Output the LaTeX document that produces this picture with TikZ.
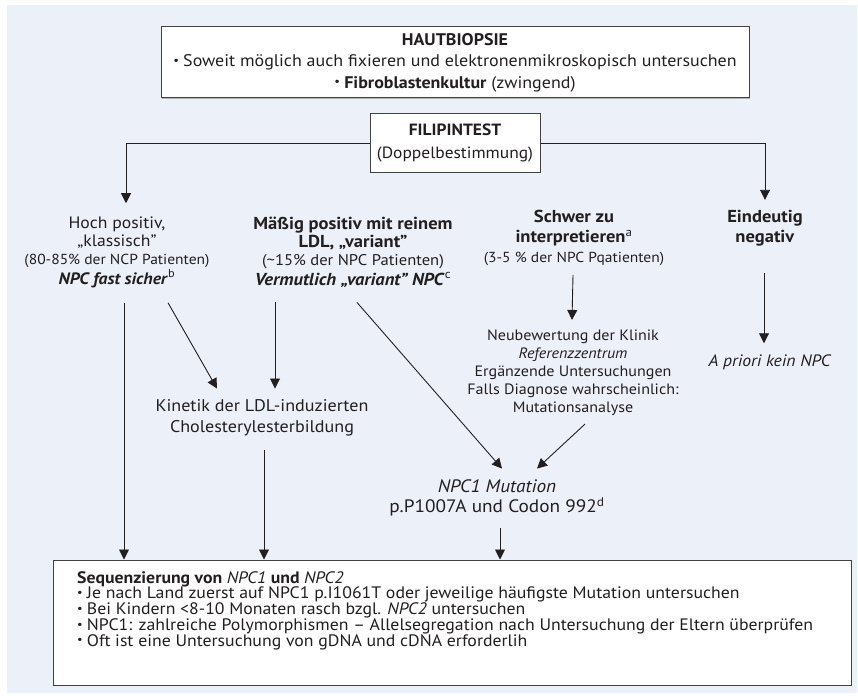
\documentclass[tikz,border=0pt]{standalone}
\usepackage{fontspec}
\setmainfont{PT Sans}[FakeStretch=1.07]
\usetikzlibrary{arrows.meta,shadows}
\definecolor{bgc}{RGB}{236,241,249}
\definecolor{ink}{RGB}{35,31,32}
\newcommand{\bu}{\raisebox{0.14em}{\scalebox{0.7}{•}}\hspace{0.25em}}
\begin{document}
\begin{tikzpicture}[x=1pt,y=-1pt,
  txt/.style={inner sep=0pt, align=center, text=ink},
  box/.style={draw=ink!85, line width=1pt, fill=white, align=center, text=ink, inner sep=0pt,
    drop shadow={shadow xshift=1.2pt, shadow yshift=-1.2pt, fill=black!45, opacity=0.6}},
  arr/.style={draw=ink, line width=0.9pt, -{Triangle[length=10pt,width=10pt]}}]
\useasboundingbox (0,0) rectangle (858,695);
\fill[bgc] (7,5) rectangle (857,693);

\node[box, minimum width=588pt, minimum height=71pt, font=\fontsize{16.8}{21.5}\selectfont] (haut) at (455,62.5)
  {\textbf{HAUTBIOPSIE}\\\bu Soweit möglich auch fixieren und elektronenmikroskopisch untersuchen\\\bu\textbf{Fibroblastenkultur} (zwingend)};

\node[box, minimum width=170pt, minimum height=58pt, font=\fontsize{16.3}{23}\selectfont] (fil) at (455,143)
  {\textbf{FILIPINTEST}\\(Doppelbestimmung)};

\node[txt, font=\fontsize{16.5}{18}\selectfont] (c1) at (117,252)
  {Hoch positiv,\\„klassisch”\\{\fontsize{14.5}{18}\selectfont (80-85\% der NCP Patienten)}\\[2pt]\textbf{\textit{NPC fast sicher}}\textsuperscript{b}};

\node[txt, font=\fontsize{17.3}{18}\selectfont] (c2) at (353,252)
  {\textbf{Mäßig positiv mit reinem}\\\textbf{LDL, „variant”}\\{\fontsize{15.5}{18}\selectfont (\textasciitilde15\% der NPC Patienten)}\\[2pt]\textbf{\textit{Vermutlich „variant” NPC}}\textsuperscript{c}};

\node[txt, font=\fontsize{17.3}{20}\selectfont] (c3) at (574,238)
  {\textbf{Schwer zu}\\\textbf{interpretieren}\textsuperscript{a}\\{\fontsize{14.5}{20}\selectfont (3-5 \% der NPC Pqatienten)}};

\node[txt, font=\fontsize{17.3}{20}\selectfont] (c4) at (765,228)
  {\textbf{Eindeutig}\\\textbf{negativ}};

\node[txt, font=\fontsize{15}{18}\selectfont] (c3b) at (573,373)
  {Neubewertung der Klinik\\\textit{Referenzzentrum}\\Ergänzende Untersuchungen\\Falls Diagnose wahrscheinlich:\\Mutationsanalyse};

\node[txt, font=\fontsize{16.5}{20}\selectfont] (c4b) at (770,362) {\textit{A priori kein NPC}};

\node[txt, font=\fontsize{16.9}{21}\selectfont] (kin) at (262,418)
  {Kinetik der LDL-induzierten\\Cholesterylesterbildung};

\node[txt, font=\fontsize{18}{20}\selectfont] (mut) at (497,498)
  {\textit{NPC1 Mutation}\\p.P1007A und Codon 992\textsuperscript{d}};

\node[box, minimum width=798pt, minimum height=125pt] (seq) at (452,622.5) {};
\node[txt, align=left, anchor=west, font=\fontsize{16.6}{15.8}\selectfont] (seqtxt) at (77,610.5)
  {\textbf{Sequenzierung von }\textit{NPC1}\textbf{ und }\textit{NPC2}\\
   \bu Je nach Land zuerst auf NPC1 p.I1061T oder jeweilige häufigste Mutation untersuchen\\
   \bu Bei Kindern <8-10 Monaten rasch bzgl. \textit{NPC2} untersuchen\\
   \bu NPC1: zahlreiche Polymorphismen – Allelsegregation nach Untersuchung der Eltern überprüfen\\
   \bu Oft ist eine Untersuchung von gDNA und cDNA erforderlih};

% connectors
\draw[arr] (fil.west) -| ([xshift=9pt,yshift=13pt]c1.north);
\draw[arr] (fil.east) -| ([yshift=10pt]c4.north);

\draw[arr] ([xshift=7pt,yshift=-15pt]c1.south) -- ([xshift=7pt]c1.south |- seq.north);
\draw[arr] ([xshift=51pt,yshift=-15pt]c1.south) -- ([xshift=-45pt,yshift=11pt]kin.north);
\draw[arr] ([xshift=-78pt,yshift=-15pt]c2.south) -- ([xshift=13pt,yshift=11pt]kin.north);
\draw[arr] ([xshift=4pt,yshift=-15pt]c2.south) -- ([xshift=5pt,yshift=11pt]mut.north);
\draw[arr] ([xshift=-1pt,yshift=-9pt]c3.south) -- ([xshift=-1pt,yshift=10pt]c3b.north);
\draw[arr] ([xshift=12pt,yshift=-8pt]c3b.south) -- ([xshift=40pt,yshift=11pt]mut.north);
\draw[arr] ([xshift=-1pt,yshift=-27pt]c4.south) -- ([xshift=-6pt,yshift=11pt]c4b.north);
\draw[arr] ([xshift=2pt,yshift=-14pt]kin.south) -- ([xshift=2pt]kin.south |- seq.north);
\draw[arr] ([xshift=3pt,yshift=-12pt]mut.south) -- ([xshift=3pt]mut.south |- seq.north);
\end{tikzpicture}
\end{document}
